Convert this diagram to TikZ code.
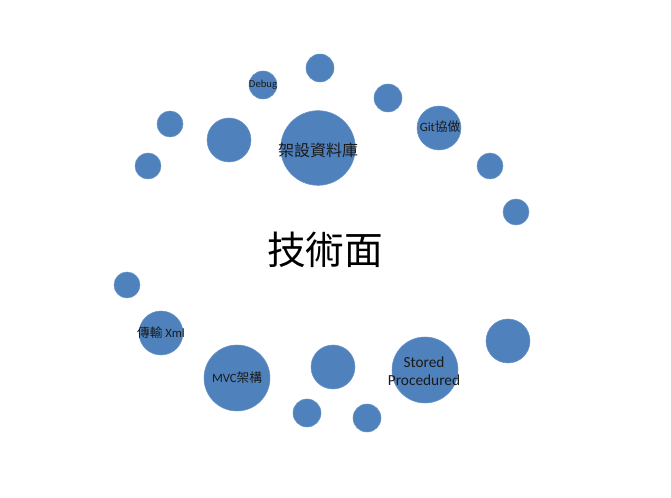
\documentclass[tikz,border=0pt]{standalone}
\usepackage{fontspec}
\setmainfont{Carlito}
\newfontfamily\cjk{Noto Sans CJK TC}
\definecolor{bub}{HTML}{4F81BD}
\definecolor{txt}{HTML}{1A1A1A}
\tikzset{
  bubble/.style={circle, fill=bub, draw=bub!85!white, line width=0.4pt, inner sep=0pt, text=txt, align=center},
  bxs/.style={bubble, minimum size=19.5pt},
  bs/.style={bubble, minimum size=21pt},
  bm/.style={bubble, minimum size=33pt},
  bl/.style={bubble, minimum size=49.5pt},
  bxl/.style={bubble, minimum size=56pt},
  lbl/.style={text=txt, inner sep=0pt, align=center}
}
\begin{document}
\begin{tikzpicture}[x=0.75pt, y=-0.75pt]
\useasboundingbox (0,0) rectangle (671,498);
% top arc
\node[bs] (debug) at (263,85) {};
\node[bs] (top) at (320,68) {};
\node[bs] (tr) at (388,98) {};
\node[bm] (git) at (439,128) {};
\node[bxl] (db) at (318,148) {};
\node[bm] (tl) at (229,140) {};
\node[bxs] (l1) at (170,124) {};
\node[bxs] (l2) at (148,166) {};
\node[bxs] (r1) at (490,166) {};
\node[bxs] (r2) at (516,212) {};
% bottom arc
\node[bxs] (l3) at (127,285) {};
\node[bm] (xml) at (161,333) {};
\node[bl] (mvc) at (237,378) {};
\node[bm] (bc) at (333,367) {};
\node[bs] (b1) at (307,413) {};
\node[bs] (b2) at (367,418) {};
\node[bl] (sp) at (425,370) {};
\node[bm] (r3) at (508,341) {};
% labels
\node[lbl, font=\fontsize{8}{9}\selectfont] (tdebug) at (debug) {Debug};
\node[lbl, font=\fontsize{12}{14}\selectfont\cjk] (tdb) at (318,150) {架設資料庫};
\node[lbl, font=\fontsize{9.5}{11}\selectfont] (tgit) at (440,127) {Git{\cjk 協做}};
\node[lbl, font=\fontsize{9.5}{11}\selectfont] (txml) at (161,333) {{\cjk 傳輸} Xml};
\node[lbl, font=\fontsize{9.5}{11}\selectfont] (tmvc) at (237,378) {MVC{\cjk 架構}};
\node[lbl, font=\fontsize{11.5}{13.5}\selectfont] (tsp) at (424,371) {Stored\\Procedured};
\node[lbl, text=black, font=\fontsize{29}{32}\selectfont\cjk] (center) at (325,250) {技術面};
\end{tikzpicture}
\end{document}
